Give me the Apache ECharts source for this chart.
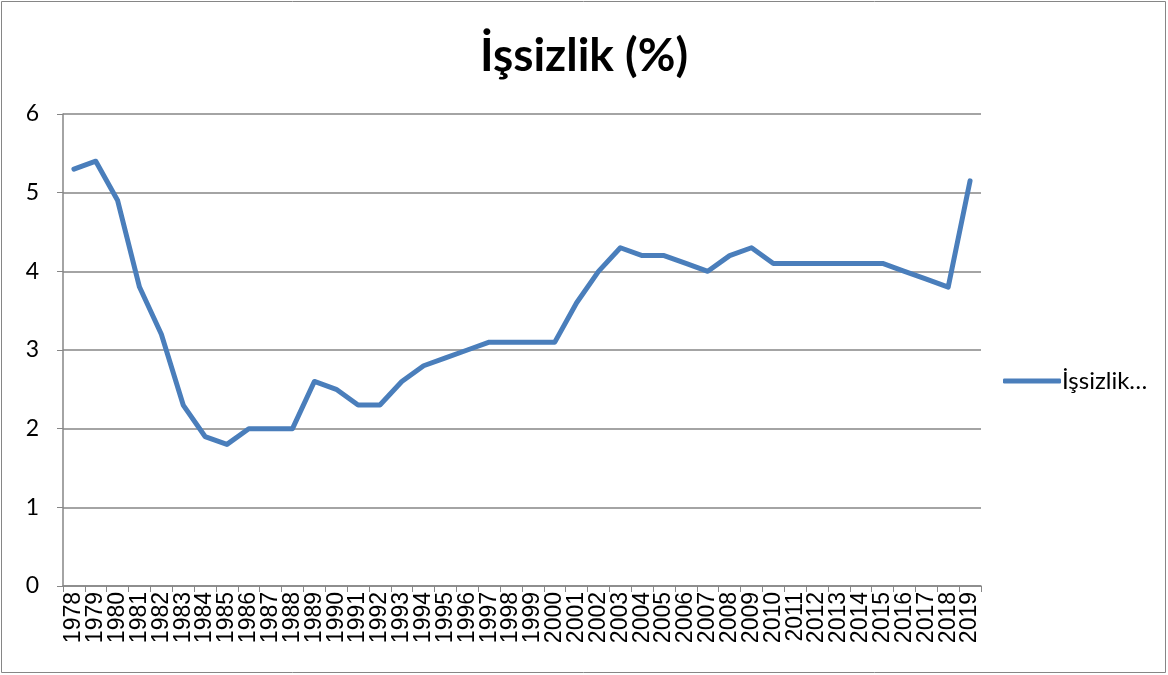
<!DOCTYPE html>
<html>
<head>
<meta charset="utf-8">
<script src="https://cdn.jsdelivr.net/npm/echarts@6/dist/echarts.min.js"></script>
<style>
  html, body { margin: 0; padding: 0; background: #fff; }
  #echart { width: 1168px; height: 675px; }
</style>
</head>
<body>
<div id="echart"></div>
<script>
var years = ['1978','1979','1980','1981','1982','1983','1984','1985','1986','1987',
  '1988','1989','1990','1991','1992','1993','1994','1995','1996','1997','1998','1999',
  '2000','2001','2002','2003','2004','2005','2006','2007','2008','2009','2010','2011',
  '2012','2013','2014','2015','2016','2017','2018','2019'];
var unemployment = [5.3, 5.4, 4.9, 3.8, 3.2, 2.3, 1.9, 1.8, 2.0, 2.0,
  2.0, 2.6, 2.5, 2.3, 2.3, 2.6, 2.8, 2.9, 3.0, 3.1, 3.1, 3.1,
  3.1, 3.6, 4.0, 4.3, 4.2, 4.2, 4.1, 4.0, 4.2, 4.3, 4.1, 4.1,
  4.1, 4.1, 4.1, 4.1, 4.0, 3.9, 3.8, 5.15];
var seriesName = 'İşsizlik (%)';

var myChart = echarts.init(document.getElementById('echart'));

var option = {
    backgroundColor: '#fff',
    animation: false,
    textStyle: { fontFamily: 'Liberation Sans' },
    graphic: [{
        type: 'rect',
        shape: { x: 1.5, y: 1.5, width: 1164, height: 671 },
        style: { fill: 'none', stroke: '#868686', lineWidth: 1 }
    }],
    title: {
        text: 'İşsizlik (%)',
        left: 'center',
        top: 28,
        textStyle: { fontFamily: 'Lato', fontWeight: 'bold', fontSize: 46, color: '#000' }
    },
    legend: {
        data: [seriesName],
        left: 998,
        top: 364,
        itemWidth: 58,
        itemHeight: 5,
        itemGap: 0,
        icon: 'roundRect',
        formatter: function () { return 'İşsizlik…'; },
        textStyle: { fontFamily: 'Lato', fontSize: 24, color: '#000', padding: [0, 0, 0, -4] }
    },
    grid: { left: 63, right: 187, top: 114, bottom: 89 },
    xAxis: {
        type: 'category',
        data: years,
        boundaryGap: true,
        axisLine: { lineStyle: { color: '#868686', width: 1.5 } },
        axisTick: { show: true, length: 6, interval: 0, lineStyle: { color: '#868686' } },
        axisLabel: { interval: 0, rotate: 90, fontSize: 23, color: '#000', margin: 6 }
    },
    yAxis: {
        type: 'value',
        min: 0,
        max: 6,
        interval: 1,
        axisLine: { show: true, lineStyle: { color: '#868686', width: 1.5 } },
        axisTick: { show: true, length: 6, lineStyle: { color: '#868686' } },
        axisLabel: { fontSize: 23, color: '#000', margin: 24, fontFamily: 'Lato' },
        splitLine: { lineStyle: { color: '#868686', width: 1.5 } }
    },
    series: [{
        name: seriesName,
        type: 'line',
        data: unemployment,
        symbol: 'none',
        lineStyle: { color: '#4a7ebb', width: 5, cap: 'round', join: 'round' },
        itemStyle: { color: '#4a7ebb' }
    }]
};
myChart.setOption(option);
</script>
</body>
</html>
